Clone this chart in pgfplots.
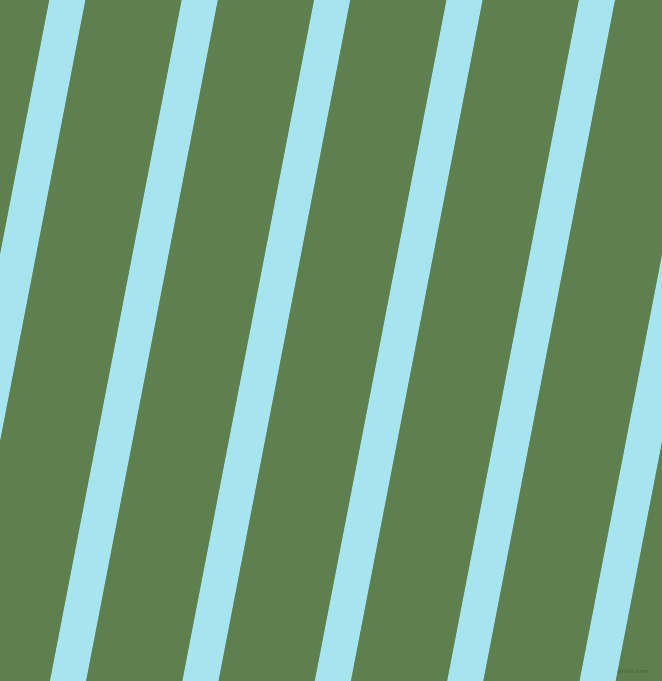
\documentclass[border=0pt]{standalone}
\usepackage{pgfplots}
\pgfplotsset{compat=1.18}
\usepackage{fontspec}
\setmainfont{DejaVu Sans}
\definecolor{bggreen}{HTML}{5E804F}
\definecolor{stripeblue}{HTML}{A6E4F0}
\definecolor{wmark}{HTML}{4E6C42}
\begin{document}
\begin{tikzpicture}
\begin{axis}[name=ax,
  width=662bp, height=681bp, scale only axis,
  xmin=0, xmax=662, ymin=0, ymax=681,
  hide axis, clip=true]
\addplot[fill=bggreen, draw=none] coordinates {(0,0) (662,0) (662,681) (0,681)} -- cycle;
% stripes: (bottom-left) (bottom-right) (top-right) (top-left)
\addplot[fill=stripeblue, draw=none] coordinates {(-82.4,0) (-46.4,0) (85.3,681) (49.3,681)} -- cycle;
\addplot[fill=stripeblue, draw=none] coordinates {(50.0,0) (86.0,0) (217.7,681) (181.7,681)} -- cycle;
\addplot[fill=stripeblue, draw=none] coordinates {(182.4,0) (218.4,0) (350.1,681) (314.1,681)} -- cycle;
\addplot[fill=stripeblue, draw=none] coordinates {(314.8,0) (350.8,0) (482.5,681) (446.5,681)} -- cycle;
\addplot[fill=stripeblue, draw=none] coordinates {(447.2,0) (483.2,0) (614.9,681) (578.9,681)} -- cycle;
\addplot[fill=stripeblue, draw=none] coordinates {(579.6,0) (615.6,0) (747.3,681) (711.3,681)} -- cycle;
\node[text=wmark, font=\fontsize{5.5}{6}\selectfont\bfseries, inner sep=0pt] at (axis cs:633.5,9) {pixlis.com};
\end{axis}
\pgfresetboundingbox
\path (ax.south west) rectangle (ax.north east);
\end{tikzpicture}
\end{document}
